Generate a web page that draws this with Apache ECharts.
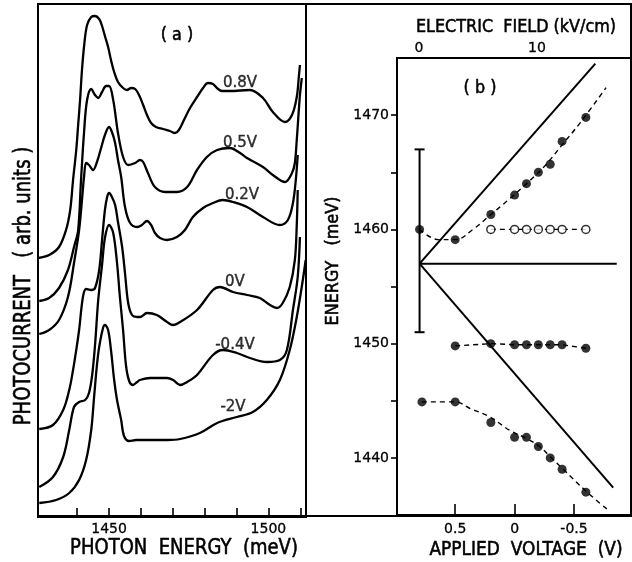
<!DOCTYPE html>
<html><head><meta charset="utf-8">
<script src="https://cdn.jsdelivr.net/npm/echarts@6/dist/echarts.min.js"></script>
<style>html,body{margin:0;padding:0;background:#fff}#c{width:632px;height:562px}</style>
</head><body><div id="c"></div>
<script>
// ---------- Panel (a): photocurrent spectra, [photon energy meV, arb. units] ----------
const energyTicksA = [1440, 1450, 1460, 1470, 1480, 1490, 1500, 1510];
const energyLabelsA = [1450, 1500];
const curve08V = [[1427.7,259],[1431.2,262],[1434.3,270],[1436.5,287],[1437.8,307],[1438.7,337],[1439.7,367],[1440.3,392],[1440.9,417],[1441.5,447],[1442.2,472],[1443.1,492],[1444.4,500],[1445.6,501],[1446.9,498],[1447.8,491],[1448.7,481],[1449.7,470],[1450.6,457],[1451.6,445],[1452.8,435],[1454.4,429],[1455.6,427],[1456.9,429],[1458.2,428],[1459.4,422],[1460.7,412],[1461.9,402],[1463.2,394],[1464.7,390],[1466.9,388],[1469.1,386],[1470.7,384],[1471.9,387],[1473.5,397],[1475.4,409],[1477.6,420],[1479.5,429],[1481.0,434],[1482.6,433],[1484.2,428],[1485.4,426],[1487.9,426],[1494.2,427],[1498.3,419],[1501.4,405],[1505.2,395],[1507.4,402],[1508.9,420],[1509.6,442],[1509.9,452]];
const curve05V = [[1428.1,216],[1431.2,219],[1434.3,229],[1437.1,247],[1439.0,270],[1440.3,287],[1441.2,337],[1442.2,387],[1443.1,417],[1444.4,428],[1445.6,422],[1446.6,419],[1447.8,425],[1449.1,431],[1450,431],[1451.3,417],[1452.8,384],[1454.4,360],[1456.0,352],[1458.2,354],[1459.7,357],[1460.7,355],[1462.2,344],[1464.4,330],[1467.6,325],[1471.3,325],[1474.5,330],[1477.6,347],[1480.7,360],[1483.9,367],[1487.9,369],[1491.1,364],[1493.3,359],[1498.3,350],[1501.4,342],[1505.2,335],[1507.4,344],[1508.3,354],[1508.9,377],[1509.9,422],[1510.5,439]];
const curve02V = [[1428.1,183],[1431.2,187],[1434.3,197],[1437.1,220],[1439.0,254],[1440.6,287],[1441.5,317],[1442.2,342],[1442.8,354],[1443.7,352],[1445.0,347],[1446.2,355],[1447.5,369],[1448.7,382],[1450,390],[1450.9,385],[1451.9,374],[1452.8,357],[1453.8,340],[1455.0,310],[1456.6,294],[1458.8,290],[1460.3,292],[1461.9,296],[1463.2,292],[1464.4,284],[1466.0,279],[1468.2,277],[1471.3,280],[1473.8,287],[1476.3,300],[1479.5,309],[1482.6,314],[1485.7,317],[1488.9,315],[1493.3,310],[1498.3,300],[1503.6,292],[1506.1,297],[1507.7,314],[1508.6,337],[1509.2,362]];
const curve0V = [[1428.1,88],[1432.4,92],[1435.6,107],[1437.5,127],[1438.7,147],[1439.7,167],[1440.6,187],[1441.8,220],[1442.8,228],[1444.4,227],[1445.6,229],[1446.9,247],[1447.8,277],[1448.7,307],[1449.4,320],[1450,324],[1450.9,320],[1451.9,312],[1452.8,295],[1454.1,270],[1455.0,244],[1456.0,214],[1457.2,202],[1458.8,200],[1459.7,200],[1461.9,204],[1465.0,202],[1468.2,195],[1470.1,192],[1472.3,195],[1477.6,207],[1482.6,227],[1484.8,230],[1488.9,225],[1493.3,222],[1497.3,219],[1500.5,212],[1502.7,209],[1504.5,214],[1506.7,230],[1508.3,257],[1508.9,292],[1509.2,327]];
const curveM04V = [[1428.1,30],[1432.4,40],[1435.6,60],[1437.5,87],[1439.0,110],[1440.6,115],[1442.5,117],[1443.7,124],[1444.7,142],[1445.6,172],[1446.6,217],[1447.8,252],[1448.7,279],[1450,292],[1451.3,284],[1452.5,254],[1453.4,220],[1454.4,187],[1455.3,152],[1456.3,136],[1457.5,132],[1458.8,135],[1459.7,137],[1462.9,139],[1468.2,139],[1470.1,137],[1472.3,132],[1474.5,135],[1477.6,142],[1482.6,162],[1485.7,167],[1490.1,164],[1494.2,159],[1499.5,155],[1503.6,157],[1505.8,167],[1507.7,207],[1509.2,240],[1509.9,280]];
const curveM2V = [[1428.1,14],[1433.4,17],[1437.5,24],[1440.6,37],[1442.8,57],[1444.4,87],[1445.3,120],[1446.2,152],[1446.9,170],[1448.1,189],[1448.7,192],[1449.7,187],[1450.6,167],[1451.6,137],[1452.5,117],[1453.8,97],[1454.7,81],[1456.3,76],[1458.5,77],[1460.7,77],[1468.2,77],[1472.3,78],[1478.5,84],[1483.9,94],[1490.1,100],[1495.1,105],[1499.5,117],[1503.6,137],[1506.7,167],[1508.9,200],[1510.8,237],[1511.7,257]];
const biasNames = ['0.8V', '0.5V', '0.2V', '0V', '-0.4V', '-2V'];
const biasLabelAnchors = [[1491.1,434],[1491.1,374],[1491.7,322],[1489.5,235],[1489.5,172],[1488.9,110]];

// ---------- Panel (b): transition energies vs applied voltage ----------
const voltageTicks = [0.5, 0, -0.5];
const fieldLabels = [0, 10];
const energyTicksB = [1440, 1445, 1450, 1455, 1460, 1465, 1470];
const energyLabelsB = [1440, 1450, 1460, 1470];
const upperV = [0.8, 0.5, 0.2, 0, -0.1, -0.2, -0.3, -0.4, -0.6];
const upperE = [1460, 1459.1, 1461.3, 1463, 1464, 1465, 1465.7, 1467.7, 1469.8];
const openV = [0.2, 0, -0.1, -0.2, -0.3, -0.4, -0.6];
const openE = [1460, 1460, 1460, 1460, 1460, 1460, 1460];
const middleV = [0.5, 0.2, 0, -0.1, -0.2, -0.3, -0.4, -0.6];
const middleE = [1449.8, 1450, 1449.9, 1449.9, 1449.9, 1449.9, 1449.9, 1449.6];
const lowerV = [0.78, 0.5, 0.2, 0, -0.1, -0.2, -0.3, -0.4, -0.6];
const lowerE = [1444.9, 1444.9, 1443.1, 1441.8, 1441.8, 1441.0, 1440.0, 1439.0, 1437.0];
const upperFit = [[0.8,1460],[0.64,1459.1],[0.5,1459.1],[0.35,1460],[0.2,1461.3],[0.05,1462.6],[-0.1,1464],[-0.25,1465.5],[-0.4,1467.4],[-0.55,1469.3],[-0.77,1472.4]];
const lowerFit = [[0.78,1444.9],[0.5,1444.9],[0.37,1444.3],[0.21,1443.6],[0.04,1442.4],[-0.1,1441.7],[-0.21,1441],[-0.3,1440.1],[-0.41,1439],[-0.61,1437],[-0.78,1435.5]];
const fanOrigin = [0.8, 1457];
const fanEnds = [[-0.68, 1474.5], [-0.86, 1457], [-0.83, 1437.4]];
const errorBar = [[0.8, 1451, 1467]];

const zip = (a, b) => a.map((v, i) => [v, b[i]]);
const FONT = "'DejaVu Sans', sans-serif";
const ink = '#000';

const chart = echarts.init(document.getElementById('c'), null, {renderer: 'canvas'});

const spectra = [curve08V, curve05V, curve02V, curve0V, curveM04V, curveM2V];
const series = [];
spectra.forEach((c, i) => series.push({
  type: 'line', name: biasNames[i], xAxisIndex: 0, yAxisIndex: 0, data: c,
  showSymbol: false, symbol: 'none', smooth: 0.35,
  lineStyle: {color: ink, width: 2.3}, silent: true, z: 3
}));
series.push({
  type: 'scatter', xAxisIndex: 0, yAxisIndex: 0, symbolSize: 0, silent: true,
  data: biasLabelAnchors.map((p, i) => [p[0], p[1], biasNames[i]]),
  label: {show: true, position: 'inside', formatter: p => p.data[2], color: ink,
          fontFamily: FONT, fontSize: 15, textBorderColor: ink, textBorderWidth: 0.4}, z: 5
});

// fan of solid lines
fanEnds.forEach(e => series.push({
  type: 'line', xAxisIndex: 1, yAxisIndex: 1, data: [fanOrigin, e], symbol: 'none',
  lineStyle: {color: ink, width: 2}, silent: true, z: 2
}));
// error bar
series.push({
  type: 'custom', xAxisIndex: 1, yAxisIndex: 1, data: errorBar, silent: true, z: 2,
  renderItem: (params, api) => {
    const top = api.coord([api.value(0), api.value(2)]);
    const bot = api.coord([api.value(0), api.value(1)]);
    const st = {stroke: ink, lineWidth: 2};
    return {type: 'group', children: [
      {type: 'line', shape: {x1: top[0], y1: top[1], x2: bot[0], y2: bot[1]}, style: st},
      {type: 'line', shape: {x1: top[0]-5, y1: top[1], x2: top[0]+5, y2: top[1]}, style: st},
      {type: 'line', shape: {x1: bot[0]-5, y1: bot[1], x2: bot[0]+5, y2: bot[1]}, style: st}
    ]};
  }
});
const dash = {color: ink, width: 1.4, type: [5, 4]};
series.push({type: 'line', xAxisIndex: 1, yAxisIndex: 1, data: upperFit, smooth: 0.4, symbol: 'none', lineStyle: dash, silent: true});
series.push({type: 'line', xAxisIndex: 1, yAxisIndex: 1, data: lowerFit, smooth: 0.4, symbol: 'none', lineStyle: dash, silent: true});
series.push({type: 'line', xAxisIndex: 1, yAxisIndex: 1, data: zip(openV, openE), symbol: 'none', lineStyle: dash, silent: true});
series.push({type: 'line', xAxisIndex: 1, yAxisIndex: 1, data: zip(middleV, middleE), symbol: 'none', lineStyle: dash, silent: true});
[zip(upperV, upperE), zip(middleV, middleE), zip(lowerV, lowerE)].forEach(d => series.push({
  type: 'scatter', xAxisIndex: 1, yAxisIndex: 1, data: d, symbol: 'circle', symbolSize: 9,
  itemStyle: {color: ink}, silent: true, z: 6
}));
series.push({
  type: 'scatter', xAxisIndex: 1, yAxisIndex: 1, data: zip(openV, openE), symbol: 'circle', symbolSize: 8,
  itemStyle: {color: '#fff', borderColor: ink, borderWidth: 1.5}, silent: true, z: 6
});

const plain = v => String(v);
const tickLabel = (size) => ({color: ink, fontFamily: FONT, fontSize: size, formatter: plain,
  textBorderColor: ink, textBorderWidth: 0.3});
const gridBorder = {show: true, borderColor: ink, borderWidth: 2, backgroundColor: 'transparent'};
const noLine = {show: false, onZero: false};

const titleText = (x, y, text, rot, size, sy) => ({
  type: 'text', x: x, y: y, rotation: rot || 0, scaleY: sy || 1, silent: true,
  style: {text: text, fill: ink, stroke: ink, lineWidth: 0.5, font: `${size}px ${FONT}`,
          textAlign: 'center', textVerticalAlign: 'middle'}
});

chart.setOption({
  animation: false,
  backgroundColor: '#fff',
  grid: [
    Object.assign({left: 38, top: 4, width: 268, height: 513}, gridBorder),
    Object.assign({left: 397, top: 58, width: 234, height: 457}, gridBorder),
    Object.assign({left: 38, top: 4, width: 593, height: 512}, gridBorder)
  ],
  xAxis: [
    {type: 'value', gridIndex: 0, min: 1427.7, max: 1511.8, position: 'bottom',
     axisLine: noLine, splitLine: {show: false},
     axisTick: {show: true, inside: true, length: 9, customValues: energyTicksA, lineStyle: {color: ink, width: 1.6}},
     axisLabel: {show: true, customValues: energyLabelsA, margin: 5, ...tickLabel(14)}},
    {type: 'value', gridIndex: 1, min: -0.98, max: 0.99, inverse: true, position: 'bottom',
     axisLine: noLine, splitLine: {show: false},
     axisTick: {show: true, inside: true, length: 11, customValues: voltageTicks, lineStyle: {color: ink, width: 1.6}},
     axisLabel: {show: true, customValues: voltageTicks, margin: 7, ...tickLabel(14)}},
    {type: 'value', gridIndex: 1, min: -1.86, max: 17.97, position: 'top',
     axisLine: noLine, splitLine: {show: false}, axisTick: {show: false},
     axisLabel: {show: true, customValues: fieldLabels, margin: 3, ...tickLabel(14)}},
    {type: 'value', gridIndex: 2, min: 0, max: 1, show: false}
  ],
  yAxis: [
    {type: 'value', gridIndex: 0, min: 0, max: 513, show: false, splitLine: {show: false}},
    {type: 'value', gridIndex: 1, min: 1435, max: 1475, position: 'left',
     axisLine: noLine, splitLine: {show: false},
     axisTick: {show: true, inside: false, length: 6, customValues: energyTicksB, lineStyle: {color: ink, width: 1.6}},
     axisLabel: {show: true, customValues: energyLabelsB, margin: 8, ...tickLabel(14)}},
    {type: 'value', gridIndex: 2, min: 0, max: 1, show: false}
  ],
  graphic: [
    titleText(24, 286, 'PHOTOCURRENT   ( arb. units )', Math.PI / 2, 18, 1.25),
    titleText(184, 549, 'PHOTON  ENERGY  (meV)', 0, 18, 1.15),
    titleText(526, 550, 'APPLIED  VOLTAGE  (V)', 0, 17, 1.15),
    titleText(516, 27, 'ELECTRIC  FIELD (kV/cm)', 0, 16, 1.15),
    titleText(333, 261, 'ENERGY   (meV)', Math.PI / 2, 16, 1.15),
    titleText(177, 35, '( a )', 0, 16, 1.1),
    titleText(480, 88, '( b )', 0, 16, 1.1)
  ],
  series: series
});
</script>
</body></html>
